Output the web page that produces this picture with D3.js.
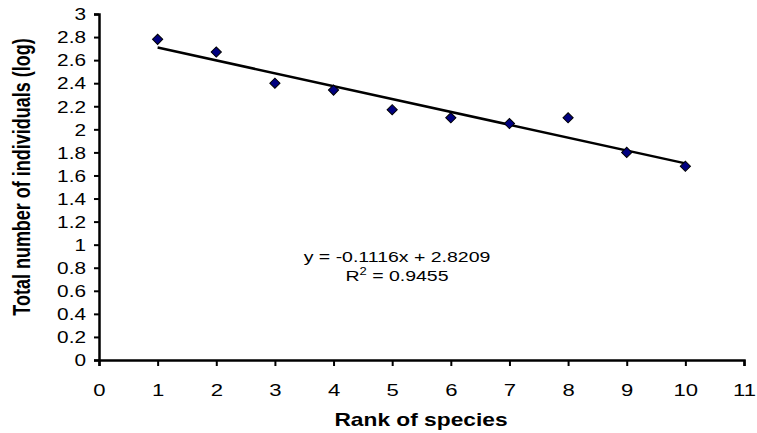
<!DOCTYPE html>
<html>
<head>
<meta charset="utf-8">
<script src="https://cdn.jsdelivr.net/npm/d3@7"></script>
<style>
  body { margin: 0; background: #fff; }
  svg { display: block; font-family: "Liberation Sans", Arial, sans-serif; }
</style>
</head>
<body>
<svg id="chart" width="757" height="433"></svg>
<script>
// rank of species vs. log of total individuals
var ranks = [1, 2, 3, 4, 5, 6, 7, 8, 9, 10];
var logCounts = [2.78, 2.67, 2.40, 2.34, 2.17, 2.10, 2.05, 2.10, 1.80, 1.68];
var trendSlope = -0.1116,
    trendIntercept = 2.8209,
    rSquared = 0.9455;
var xTicks = [0, 1, 2, 3, 4, 5, 6, 7, 8, 9, 10, 11];
var yTicks = [0, 0.2, 0.4, 0.6, 0.8, 1, 1.2, 1.4, 1.6, 1.8, 2, 2.2, 2.4, 2.6, 2.8, 3];

var stretch = 1.3; // the original picture is a bit wide

var svg = d3.select('#chart'),
    x = d3.scaleLinear().domain([0, 11]).range([99, 744]),
    y = d3.scaleLinear().domain([0, 3]).range([360, 14]);

// trend line
var trend = ranks.filter(function(r, i) { return i === 0 || i === ranks.length - 1; })
  .map(function(r) { return [r, trendSlope * r + trendIntercept]; });
svg.append('path')
  .datum(trend)
  .attr('fill', 'none')
  .attr('stroke', '#000')
  .attr('stroke-width', 2.5)
  .attr('d', d3.line().x(function(d) { return x(d[0]); }).y(function(d) { return y(d[1]); }));

// axes
var yAxis = svg.append('g')
  .attr('transform', 'translate(' + x(0) + ',0)')
  .call(d3.axisLeft(y).tickValues(yTicks).tickSize(5).tickPadding(8)
    .tickFormat(function(d) { return d3.format('')(+d.toFixed(1)); }));
yAxis.selectAll('text')
  .attr('x', -13 / stretch)
  .attr('dy', '0.36em')
  .attr('transform', 'scale(' + stretch + ',1)')
  .style('font-size', '16px')
  .attr('fill', '#000');

var xAxis = svg.append('g')
  .attr('transform', 'translate(0,' + y(0) + ')')
  .call(d3.axisBottom(x).tickValues(xTicks).tickSize(6).tickFormat(d3.format('d')));
xAxis.selectAll('.tick text')
  .attr('y', 0)
  .attr('dy', 0)
  .attr('transform', 'translate(0,36) scale(' + stretch + ',1)')
  .style('font-size', '17px')
  .attr('fill', '#000');

[xAxis, yAxis].forEach(function(a) {
  a.select('.domain').attr('stroke-width', 2.5).attr('stroke', '#000');
  a.selectAll('.tick line').attr('stroke-width', 2).attr('stroke', '#000');
});

// markers
svg.append('g').selectAll('path')
  .data(ranks)
  .join('path')
  .attr('transform', function(d, i) {
    return 'translate(' + x(d) + ',' + y(logCounts[i]) + ') rotate(45)';
  })
  .attr('d', d3.symbol(d3.symbolSquare, 52))
  .attr('fill', '#000080')
  .attr('stroke', '#000')
  .attr('stroke-width', 1);

// regression label
var eq = svg.append('g').attr('transform', 'translate(397,0) scale(' + stretch + ',1)');
eq.append('text')
  .attr('y', 262)
  .attr('text-anchor', 'middle')
  .style('font-size', '15px')
  .text('y = ' + trendSlope + 'x + ' + trendIntercept);
var r2 = eq.append('text')
  .attr('y', 281)
  .attr('text-anchor', 'middle')
  .style('font-size', '15px');
r2.append('tspan').text('R');
r2.append('tspan').attr('dy', -6).style('font-size', '10px').text('2');
r2.append('tspan').attr('dy', 6).text(' = ' + rSquared);

// axis titles
svg.append('text')
  .attr('transform', 'translate(421,426) scale(' + stretch + ',1)')
  .attr('text-anchor', 'middle')
  .style('font-size', '17.5px')
  .style('font-weight', 'bold')
  .text('Rank of species');

svg.append('text')
  .attr('transform', 'translate(30,177) scale(' + stretch + ',1) rotate(-90)')
  .attr('text-anchor', 'middle')
  .style('font-size', '18px')
  .style('font-weight', 'bold')
  .text('Total number of individuals (log)');
</script>
</body>
</html>
